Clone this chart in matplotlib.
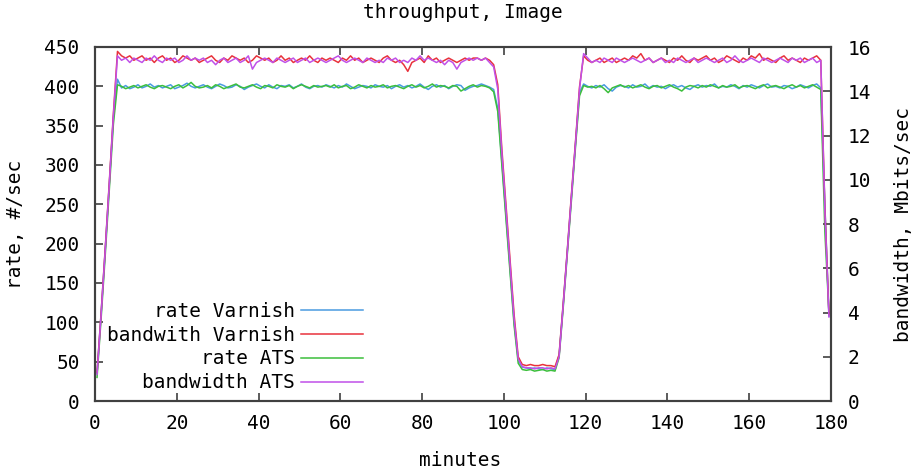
import numpy as np
import matplotlib
matplotlib.use("Agg")
import matplotlib.pyplot as plt

# one sample per minute, taken at the half minute
minutes = np.arange(0.5, 180, 1.0)

rate_varnish = [
    35, 112, 192, 275, 360, 409,
    398, 401, 397, 399, 402, 398, 400, 403, 399, 401,
    398, 400, 402, 397, 399, 401, 404, 400, 398, 400,
    402, 399, 397, 400, 403, 401, 398, 399, 402, 400,
    396, 399, 401, 403, 400, 398, 402, 399, 397, 401,
    400, 402, 398, 400, 403, 399, 397, 400, 401, 399,
    402, 400, 398, 401, 399, 403, 400, 397, 399, 401,
    400, 398, 402, 400, 399, 401, 397, 400, 402, 399,
    401, 398, 400, 403, 399, 396, 400, 402, 399, 401,
    397, 400, 402, 401, 395, 398, 400, 401, 403, 401, 399,
    396, 372, 305, 237, 168, 100, 52, 43,
    42, 41, 42, 41, 40, 42, 41, 40,
    58, 122, 190, 258, 326, 392,
    403, 400, 398, 401, 399, 402, 397, 394, 399, 401,
    400, 398, 402, 399, 400, 403, 398, 401, 399, 400,
    397, 400, 402, 399, 401, 398, 396, 400, 402, 399,
    401, 400, 403, 398, 400, 399, 402, 400, 397, 401,
    399, 402, 400, 398, 401, 403, 399, 400, 398, 401,
    400, 397, 399, 402, 400, 398, 401, 403, 398,
    250, 108,
]

bw_varnish = [
    1.3, 4.0, 6.9, 9.9, 13.0, 15.8,
    15.6, 15.5, 15.6, 15.4, 15.5, 15.6, 15.4, 15.5, 15.3, 15.5,
    15.6, 15.4, 15.5, 15.3, 15.4, 15.6, 15.5, 15.4, 15.5, 15.3,
    15.4, 15.5, 15.6, 15.4, 15.3, 15.5, 15.4, 15.6, 15.5, 15.4,
    15.5, 15.3, 15.4, 15.6, 15.5, 15.4, 15.5, 15.3, 15.4, 15.6,
    15.4, 15.5, 15.3, 15.4, 15.5, 15.4, 15.6, 15.4, 15.3, 15.5,
    15.4, 15.5, 15.4, 15.3, 15.5, 15.4, 15.6, 15.4, 15.5, 15.3,
    15.4, 15.5, 15.4, 15.3, 15.5, 15.6, 15.4, 15.3, 15.4, 15.2,
    14.9, 15.3, 15.4, 15.5, 15.3, 15.6, 15.4, 15.5, 15.3, 15.4,
    15.5, 15.4, 15.3, 15.4, 15.5, 15.4, 15.5, 15.5, 15.4, 15.5, 15.4,
    15.2, 14.3, 11.4, 8.9, 6.4, 3.9, 2.0, 1.65,
    1.6, 1.65, 1.6, 1.6, 1.65, 1.6, 1.6, 1.55,
    2.1, 4.4, 6.8, 9.3, 11.7, 14.2,
    15.6, 15.4, 15.3, 15.4, 15.5, 15.3, 15.4, 15.5, 15.3, 15.4,
    15.5, 15.4, 15.6, 15.5, 15.7, 15.4, 15.5, 15.3, 15.4, 15.5,
    15.4, 15.3, 15.5, 15.4, 15.6, 15.4, 15.3, 15.5, 15.4, 15.5,
    15.6, 15.4, 15.5, 15.3, 15.4, 15.6, 15.5, 15.4, 15.3, 15.5,
    15.4, 15.6, 15.5, 15.7, 15.4, 15.5, 15.4, 15.3, 15.5, 15.6,
    15.4, 15.5, 15.4, 15.3, 15.5, 15.4, 15.5, 15.6, 15.4,
    8.8, 3.9,
]

rate_ats = [
    30, 105, 185, 268, 352, 402,
    400, 397, 399, 401, 398, 400, 402, 399, 397, 400,
    401, 399, 397, 400, 402, 398, 401, 405, 400, 398,
    399, 401, 398, 402, 400, 397, 399, 401, 403, 399,
    398, 400, 402, 399, 397, 401, 400, 398, 402, 400,
    399, 401, 397, 400, 402, 400, 398, 401, 399, 400,
    401, 399, 402, 398, 400, 401, 397, 399, 402, 400,
    398, 401, 399, 400, 402, 398, 400, 401, 399, 397,
    400, 402, 399, 401, 398, 400, 403, 399, 401, 400,
    398, 401, 400, 394, 397, 400, 402, 399, 401, 400, 398,
    393, 368, 300, 232, 163, 96, 48, 40,
    39, 40, 38, 39, 40, 38, 39, 38,
    55, 118, 186, 254, 322, 388,
    401, 399, 400, 398, 401, 397, 392, 398, 400, 402,
    399, 401, 398, 400, 402, 399, 397, 400, 401, 398,
    400, 402, 399, 397, 394, 399, 401, 400, 398, 401,
    399, 402, 400, 398, 401, 399, 400, 402, 398, 400,
    401, 399, 397, 400, 402, 398, 400, 401, 399, 397,
    400, 402, 399, 401, 398, 400, 402, 399, 396,
    215, 112,
]

bw_ats = [
    1.2, 3.9, 6.8, 9.8, 12.9, 15.6,
    15.4, 15.5, 15.3, 15.5, 15.4, 15.3, 15.5, 15.4, 15.6, 15.4,
    15.3, 15.5, 15.4, 15.5, 15.3, 15.4, 15.6, 15.4, 15.5, 15.4,
    15.5, 15.3, 15.4, 15.2, 15.4, 15.5, 15.3, 15.4, 15.5, 15.3,
    15.4, 15.6, 15.0, 15.3, 15.4, 15.5, 15.4, 15.3, 15.5, 15.4,
    15.3, 15.4, 15.5, 15.3, 15.4, 15.5, 15.3, 15.4, 15.5, 15.4,
    15.3, 15.4, 15.5, 15.6, 15.4, 15.3, 15.4, 15.5, 15.4, 15.3,
    15.5, 15.4, 15.3, 15.4, 15.3, 15.5, 15.4, 15.5, 15.3, 15.4,
    15.3, 15.5, 15.4, 15.6, 15.4, 15.5, 15.4, 15.3, 15.4, 15.2,
    15.4, 15.3, 15.0, 15.3, 15.4, 15.5, 15.4, 15.5, 15.4, 15.5, 15.3,
    15.1, 14.1, 11.2, 8.7, 6.2, 3.7, 1.9, 1.55,
    1.5, 1.5, 1.45, 1.5, 1.5, 1.45, 1.5, 1.45,
    2.0, 4.3, 6.7, 9.2, 11.6, 14.1,
    15.7, 15.5, 15.3, 15.4, 15.3, 15.5, 15.4, 15.3, 15.5, 15.4,
    15.3, 15.4, 15.5, 15.4, 15.3, 15.4, 15.5, 15.3, 15.4, 15.5,
    15.3, 15.4, 15.3, 15.5, 15.4, 15.3, 15.4, 15.5, 15.3, 15.4,
    15.5, 15.4, 15.3, 15.4, 15.5, 15.3, 15.4, 15.6, 15.4, 15.3,
    15.4, 15.5, 15.4, 15.3, 15.5, 15.4, 15.3, 15.4, 15.5, 15.4,
    15.3, 15.5, 15.4, 15.5, 15.3, 15.4, 15.5, 15.3, 15.4,
    8.6, 3.8,
]

BLUE = "#4a9be0"
RED = "#e8323c"
GREEN = "#3cbf3c"
PURPLE = "#c050e8"
FRAME = "#404040"
FS = 14

plt.rcParams["font.family"] = ["DejaVu Sans Mono"]
plt.rcParams["font.size"] = FS

W, H = 917, 469
fig = plt.figure(figsize=(W / 100, H / 100), dpi=100)
ax = fig.add_axes([95 / W, 1 - 401 / H, 736 / W, 354 / H])
ax2 = ax.twinx()

l1, = ax.plot(minutes, rate_varnish, color=BLUE, lw=1.1, label="rate Varnish")
l2, = ax2.plot(minutes, bw_varnish, color=RED, lw=1.1, label="bandwith Varnish")
l3, = ax.plot(minutes, rate_ats, color=GREEN, lw=1.1, label="rate ATS")
l4, = ax2.plot(minutes, bw_ats, color=PURPLE, lw=1.1, label="bandwidth ATS")

ax.set_xlim(0, 180)
ax.set_ylim(0, 450)
ax2.set_ylim(0, 16)
ax.set_xticks(range(0, 181, 20))
ax.set_yticks(range(0, 451, 50))
ax2.set_yticks(range(0, 17, 2))

ax.tick_params(axis="x", direction="in", top=True, length=6, width=1.2,
               color=FRAME, pad=9)
ax.tick_params(axis="y", direction="in", length=6, width=1.2, color=FRAME, pad=11)
ax2.tick_params(axis="y", direction="in", length=6, width=1.2, color=FRAME, pad=12)
for a in (ax, ax2):
    for s in a.spines.values():
        s.set_color(FRAME)
        s.set_linewidth(1.5)

fig.text(463 / W, 1 - 12 / H, "throughput, Image", ha="center", va="center")
fig.text(460 / W, 1 - 460 / H, "minutes", ha="center", va="center")
fig.text(16 / W, 1 - 224 / H, "rate, #/sec", rotation=90, ha="center", va="center")
fig.text(903 / W, 1 - 224 / H, "bandwidth, Mbits/sec", rotation=90,
         ha="center", va="center")

ax2.legend(handles=[l1, l2, l3, l4], loc="upper right",
           bbox_to_anchor=(373 / W, 1 - 292 / H), bbox_transform=fig.transFigure,
           frameon=False, markerfirst=False, handlelength=3.2,
           handletextpad=0.3, labelspacing=0.25, borderpad=0, fontsize=FS)

fig.savefig("out.png", dpi=100)
